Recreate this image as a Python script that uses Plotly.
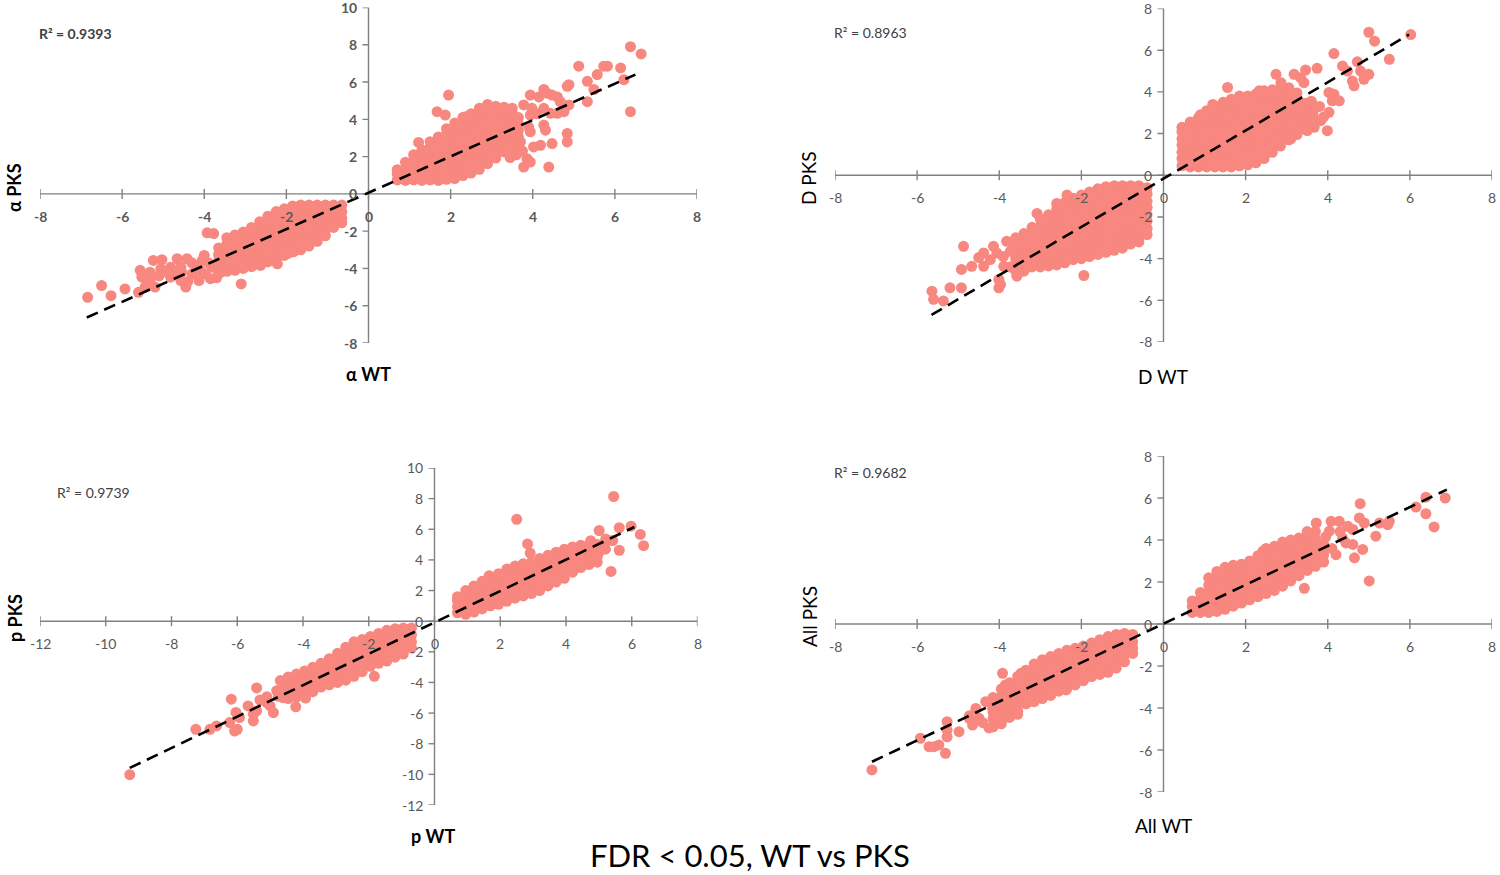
import plotly.graph_objects as go

# ---------------- values ----------------
# dense part of every cloud: (WT value, [PKS values at that WT value])
# scattered points: (WT value, PKS value)

alpha_core = [
    (0.7, [0.75, 1.1, 1.3]),
    (0.9, [0.72, 1.05, 1.4, 1.7]),
    (1.1, [0.75, 1.1, 1.45, 1.8, 2.1]),
    (1.3, [0.72, 0.95, 1.3, 1.65, 2.0, 2.35]),
    (1.5, [0.75, 1.1, 1.45, 1.8, 2.15, 2.5, 2.8]),
    (1.7, [0.72, 0.95, 1.3, 1.65, 2.0, 2.35, 2.7, 3.05]),
    (1.9, [0.78, 1.1, 1.45, 1.8, 2.15, 2.5, 2.85, 3.2, 3.5]),
    (2.1, [0.82, 1.0, 1.35, 1.7, 2.05, 2.4, 2.75, 3.1, 3.45, 3.8]),
    (2.3, [0.98, 1.3, 1.65, 2.0, 2.35, 2.7, 3.05, 3.4, 3.75, 4.1]),
    (2.5, [1.12, 1.45, 1.8, 2.15, 2.5, 2.85, 3.2, 3.55, 3.9, 4.3]),
    (2.7, [1.32, 1.65, 2.0, 2.35, 2.7, 3.05, 3.4, 3.75, 4.1, 4.45, 4.6]),
    (2.9, [1.62, 1.95, 2.3, 2.65, 3.0, 3.35, 3.7, 4.05, 4.4, 4.8]),
    (3.1, [1.92, 2.25, 2.6, 2.95, 3.3, 3.65, 4.0, 4.35, 4.7]),
    (3.3, [2.25, 2.6, 2.95, 3.3, 3.65, 4.0, 4.35, 4.65]),
    (3.5, [2.62, 2.95, 3.3, 3.65, 4.0, 4.35, 4.6]),
    (3.65, [3.05, 3.4, 3.75, 4.1]),
    (-0.65, [-0.6, -0.95, -1.3, -1.55]),
    (-0.85, [-0.6, -0.95, -1.3, -1.65, -1.8]),
    (-1.05, [-0.6, -0.9, -1.25, -1.6, -1.95, -2.25]),
    (-1.25, [-0.6, -0.95, -1.3, -1.65, -2.0, -2.35, -2.55]),
    (-1.45, [-0.6, -0.9, -1.25, -1.6, -1.95, -2.3, -2.65, -2.8]),
    (-1.65, [-0.6, -0.95, -1.3, -1.65, -2.0, -2.35, -2.7, -3.0]),
    (-1.85, [-0.65, -1.0, -1.35, -1.7, -2.05, -2.4, -2.75, -3.1]),
    (-2.05, [-0.8, -1.15, -1.5, -1.85, -2.2, -2.55, -2.9, -3.3]),
    (-2.25, [-0.95, -1.3, -1.65, -2.0, -2.35, -2.7, -3.05, -3.4, -3.6]),
    (-2.45, [-1.2, -1.55, -1.9, -2.25, -2.6, -2.95, -3.3, -3.65]),
    (-2.65, [-1.5, -1.85, -2.2, -2.55, -2.9, -3.25, -3.6, -3.8]),
    (-2.85, [-1.8, -2.15, -2.5, -2.85, -3.2, -3.55, -3.9]),
    (-3.05, [-2.05, -2.4, -2.75, -3.1, -3.45, -3.8, -4.0]),
    (-3.25, [-2.2, -2.55, -2.9, -3.25, -3.6, -3.95, -4.1]),
    (-3.45, [-2.35, -2.7, -3.05, -3.4, -3.75, -4.15]),
    (-3.65, [-2.9, -3.25, -3.6, -3.95, -4.3]),
]
alpha_extra = [
    (1.95, 5.3), (1.67, 4.41), (1.87, 4.23), (2.36, 4.14), (1.22, 2.76), (3.78, 4.77),
    (3.98, 4.59), (3.94, 5.3), (4.15, 5.2), (4.27, 5.6), (4.35, 5.4), (4.47, 5.3),
    (4.6, 5.2), (4.67, 4.95), (3.94, 4.23), (4.1, 4.3), (4.27, 4.59), (4.43, 4.32),
    (4.6, 4.32), (4.76, 4.41), (4.88, 4.77), (4.84, 5.77), (4.88, 5.86), (5.12, 6.85),
    (5.33, 6.04), (5.33, 4.95), (5.49, 5.6), (5.57, 6.4), (5.73, 6.85), (5.82, 6.85),
    (6.14, 6.76), (6.22, 6.13), (6.38, 4.41), (6.38, 7.9), (6.64, 7.51), (3.9, 3.6),
    (3.94, 3.33), (4.27, 3.69), (4.31, 3.42), (4.19, 2.61), (4.02, 2.52), (4.47, 2.7),
    (4.84, 3.24), (4.84, 2.79), (3.86, 1.89), (3.94, 1.71), (3.78, 1.44), (4.39, 1.44),
    (3.37, 2.25), (3.5, 2.61), (3.62, 2.34), (3.7, 2.79), (3.45, 1.95), (3.6, 2.1),
    (3.75, 2.3),
    (-3.93, -2.09), (-3.77, -2.13), (-3.1, -4.83), (-2.63, -3.84), (-2.22, -3.75),
    (-1.97, -3.2), (-1.82, -3.1), (-5.24, -3.57), (-5.03, -3.53), (-4.66, -3.48),
    (-4.42, -3.48), (-5.52, -4.47), (-5.56, -4.1), (-5.32, -4.2), (-5.93, -5.1),
    (-6.27, -5.46), (-6.5, -4.92), (-6.84, -5.55), (-5.6, -5.28), (-5.06, -4.02),
    (-4.82, -3.93), (-4.57, -3.93), (-4.82, -4.47), (-4.57, -4.65), (-4.45, -5.0),
    (-4.21, -3.93), (-4.05, -3.57), (-3.97, -4.29), (-3.8, -3.93), (-4.13, -4.65),
    (-5.32, -4.65), (-5.2, -5.0), (-5.44, -5.0), (-4.9, -4.2), (-4.7, -4.3),
    (-4.3, -4.3), (-4.1, -4.1), (-3.9, -3.7), (-4.0, -3.3), (-4.3, -3.7),
    (-4.55, -4.2), (-5.1, -4.4), (-3.85, -4.55), (-4.4, -4.7), (-3.7, -4.5),
    (-3.6, -4.2),
]
alpha_fit_wt = [-6.86, 6.5]
alpha_fit_pks = [-6.63, 6.4]
alpha_r2 = "0.9393"

d_core = [
    (0.45, [0.45, 0.8, 1.1, 1.45, 1.75, 2.1, 2.3]),
    (0.65, [0.4, 0.65, 1.0, 1.3, 1.65, 1.95, 2.3, 2.55]),
    (0.85, [0.4, 0.75, 1.1, 1.4, 1.75, 2.05, 2.4, 2.75]),
    (1.05, [0.4, 0.65, 1.0, 1.3, 1.65, 1.95, 2.3, 2.6, 2.95, 3.1]),
    (1.25, [0.4, 0.75, 1.1, 1.4, 1.75, 2.05, 2.4, 2.7, 3.05, 3.3]),
    (1.45, [0.4, 0.65, 1.0, 1.3, 1.65, 1.95, 2.3, 2.6, 2.95, 3.25, 3.5]),
    (1.65, [0.4, 0.75, 1.1, 1.4, 1.75, 2.05, 2.4, 2.7, 3.05, 3.35, 3.65]),
    (1.85, [0.45, 0.8, 1.1, 1.45, 1.75, 2.1, 2.4, 2.75, 3.05, 3.4, 3.8]),
    (2.05, [0.5, 0.85, 1.2, 1.5, 1.85, 2.15, 2.5, 2.8, 3.15, 3.45, 3.8]),
    (2.25, [0.6, 0.95, 1.3, 1.6, 1.95, 2.25, 2.6, 2.9, 3.25, 3.55, 3.9]),
    (2.45, [0.8, 1.15, 1.45, 1.8, 2.1, 2.45, 2.75, 3.1, 3.4, 3.75, 4.05]),
    (2.65, [1.1, 1.45, 1.75, 2.1, 2.4, 2.75, 3.05, 3.4, 3.7, 4.1]),
    (2.85, [1.4, 1.7, 2.05, 2.35, 2.7, 3.0, 3.35, 3.65, 4.0, 4.2]),
    (3.05, [1.7, 2.0, 2.35, 2.65, 3.0, 3.3, 3.65, 3.95, 4.2]),
    (3.25, [1.95, 2.3, 2.6, 2.95, 3.25, 3.6, 3.95]),
    (3.45, [2.2, 2.5, 2.85, 3.15, 3.45]),
    (3.65, [2.5, 2.8, 3.1, 3.3]),
    (-0.4, [-0.6, -0.9, -1.25, -1.55, -1.9, -2.2, -2.55, -2.85]),
    (-0.6, [-0.5, -0.8, -1.1, -1.45, -1.75, -2.1, -2.4, -2.75, -3.05, -3.2]),
    (-0.8, [-0.5, -0.85, -1.2, -1.5, -1.85, -2.15, -2.5, -2.8, -3.15, -3.3]),
    (-1.0, [-0.5, -0.8, -1.1, -1.45, -1.75, -2.1, -2.4, -2.75, -3.05, -3.4, -3.5]),
    (-1.2, [-0.5, -0.85, -1.2, -1.5, -1.85, -2.15, -2.5, -2.8, -3.15, -3.45, -3.6]),
    (-1.4, [-0.55, -0.9, -1.2, -1.55, -1.85, -2.2, -2.5, -2.85, -3.15, -3.5, -3.7]),
    (-1.6, [-0.65, -1.0, -1.3, -1.65, -1.95, -2.3, -2.6, -2.95, -3.25, -3.6, -3.8]),
    (-1.8, [-0.8, -1.1, -1.45, -1.75, -2.1, -2.4, -2.75, -3.05, -3.4, -3.7, -3.9]),
    (-2.0, [-0.95, -1.3, -1.6, -1.95, -2.25, -2.6, -2.9, -3.25, -3.55, -3.9, -4.0]),
    (-2.2, [-1.1, -1.4, -1.75, -2.05, -2.4, -2.7, -3.05, -3.35, -3.7, -4.05]),
    (-2.4, [-1.3, -1.65, -1.95, -2.3, -2.6, -2.95, -3.25, -3.6, -3.9, -4.2]),
    (-2.6, [-1.6, -1.9, -2.25, -2.55, -2.9, -3.2, -3.55, -3.85, -4.2, -4.3]),
    (-2.8, [-1.9, -2.2, -2.55, -2.85, -3.2, -3.5, -3.85, -4.15, -4.35]),
    (-3.0, [-2.1, -2.45, -2.75, -3.1, -3.4, -3.75, -4.05, -4.4]),
    (-3.2, [-2.5, -2.8, -3.15, -3.45, -3.8, -4.1, -4.4]),
    (-3.4, [-2.8, -3.1, -3.45, -3.75, -4.1, -4.4, -4.6]),
    (-3.6, [-3.0, -3.35, -3.65, -4.0, -4.3, -4.6]),
]
d_extra = [
    (1.56, 4.21), (2.33, 4.05), (2.74, 4.84), (2.86, 4.44), (3.18, 4.84), (3.34, 4.68),
    (3.46, 5.05), (3.74, 5.13), (3.42, 4.44), (4.15, 5.84), (4.36, 5.24), (4.48, 5.0),
    (4.72, 5.44), (4.8, 5.0), (4.6, 4.52), (4.64, 4.29), (4.88, 4.6), (5.0, 4.84),
    (4.15, 3.89), (4.11, 3.57), (4.28, 3.57), (4.03, 3.02), (3.99, 2.14), (3.83, 2.62),
    (3.67, 2.3), (3.06, 1.9), (3.1, 1.75), (3.5, 2.14), (5.0, 6.86), (5.14, 6.43),
    (5.5, 5.56), (6.02, 6.75), (4.03, 3.97), (3.6, 3.55), (3.8, 3.3), (3.9, 2.8),
    (1.2, 3.4), (0.9, 2.9),
    (-4.87, -3.41), (-4.38, -3.73), (-4.38, -4.37), (-4.67, -4.37), (-4.92, -4.52),
    (-4.92, -5.4), (-5.2, -5.4), (-5.64, -5.56), (-5.6, -5.95), (-5.36, -6.03),
    (-4.01, -5.0), (-4.01, -5.4), (-3.97, -5.24), (-3.57, -4.84), (-1.94, -4.81),
    (-4.22, -4.05), (-4.06, -3.73), (-3.73, -3.65), (-3.89, -4.37), (-3.33, -3.97),
    (-3.08, -1.83), (-2.84, -2.14), (-2.6, -1.35), (-2.35, -0.95), (-4.14, -3.41),
    (-3.82, -3.17), (-3.9, -3.9), (-4.5, -3.95), (-3.75, -4.4),
]
d_fit_wt = [-5.65, 5.98]
d_fit_pks = [-6.7, 6.75]
d_r2 = "0.8963"

p_core = [
    (0.7, [0.55, 0.95, 1.35, 1.6]),
    (0.95, [0.45, 0.9, 1.35, 1.75, 2.0]),
    (1.2, [0.6, 1.05, 1.5, 1.9, 2.3]),
    (1.45, [0.8, 1.25, 1.7, 2.15, 2.6]),
    (1.7, [1.0, 1.45, 1.9, 2.35, 2.8, 2.9]),
    (1.95, [1.1, 1.55, 2.0, 2.45, 2.9, 3.1]),
    (2.2, [1.3, 1.75, 2.2, 2.65, 3.1, 3.4]),
    (2.45, [1.5, 1.95, 2.4, 2.85, 3.3, 3.6]),
    (2.7, [1.65, 2.1, 2.55, 3.0, 3.45, 3.75]),
    (2.95, [1.8, 2.25, 2.7, 3.15, 3.6, 3.85]),
    (3.2, [2.0, 2.45, 2.9, 3.35, 3.8, 4.1]),
    (3.45, [2.3, 2.75, 3.2, 3.65, 4.1, 4.3]),
    (3.7, [2.55, 3.0, 3.45, 3.9, 4.35, 4.5]),
    (3.95, [2.8, 3.25, 3.7, 4.15, 4.6, 4.7]),
    (4.2, [3.2, 3.65, 4.1, 4.5, 4.85]),
    (4.45, [3.5, 3.95, 4.4, 4.85, 4.95]),
    (4.7, [3.7, 4.15, 4.6, 5.0]),
    (4.95, [3.85, 4.3, 4.75, 5.0]),
    (-0.7, [-0.45, -0.9, -1.35, -1.75]),
    (-0.95, [-0.45, -0.85, -1.3, -1.75, -2.15]),
    (-1.2, [-0.5, -0.95, -1.4, -1.85, -2.35]),
    (-1.45, [-0.6, -1.05, -1.5, -1.95, -2.4, -2.6]),
    (-1.7, [-0.8, -1.25, -1.7, -2.15, -2.6, -2.75]),
    (-1.95, [-1.0, -1.45, -1.9, -2.35, -2.8, -2.95]),
    (-2.2, [-1.2, -1.65, -2.1, -2.55, -3.0, -3.3]),
    (-2.45, [-1.35, -1.8, -2.25, -2.7, -3.15, -3.6]),
    (-2.7, [-1.7, -2.15, -2.6, -3.05, -3.5, -3.85]),
    (-2.95, [-2.1, -2.55, -3.0, -3.45, -3.9, -4.0]),
    (-3.2, [-2.45, -2.9, -3.35, -3.8, -4.15]),
    (-3.45, [-2.75, -3.2, -3.65, -4.1, -4.3]),
    (-3.7, [-3.0, -3.45, -3.9, -4.35, -4.6]),
    (-3.95, [-3.25, -3.7, -4.15, -4.6, -4.85]),
    (-4.2, [-3.45, -3.9, -4.35, -4.8, -4.95]),
    (-4.45, [-3.65, -4.1, -4.55, -5.05]),
]
p_extra = [
    (2.5, 6.65), (2.83, 5.04), (2.91, 4.45), (1.66, 2.96), (5.01, 5.92), (5.21, 5.37),
    (5.45, 8.14), (5.62, 6.1), (5.62, 4.63), (5.37, 3.25), (5.42, 5.26), (5.98, 6.2),
    (6.26, 5.66), (6.36, 4.93), (5.16, 5.04), (5.0, 4.5), (4.95, 4.2), (4.75, 5.25),
    (5.2, 4.7),
    (-1.83, -3.6), (-4.22, -5.59), (-3.92, -5.02), (-5.41, -4.36), (-5.31, -5.15),
    (-5.1, -4.94), (-5.67, -5.53), (-5.51, -6.07), (-5.41, -5.86), (-5.51, -6.51),
    (-6.18, -5.09), (-6.04, -5.96), (-5.93, -6.29), (-6.23, -6.62), (-6.08, -7.17),
    (-6.0, -7.06), (-5.0, -5.53), (-4.9, -5.97), (-5.1, -5.31), (-6.63, -6.84),
    (-6.83, -7.06), (-7.26, -7.06), (-9.27, -10.02), (-4.59, -4.32), (-4.8, -4.54),
    (-4.69, -3.88), (-4.75, -4.9), (-4.6, -5.0),
]
p_fit_wt = [-9.27, 6.08]
p_fit_pks = [-9.58, 6.15]
p_r2 = "0.9739"

all_core = [
    (0.7, [0.55, 0.85, 1.1]),
    (0.9, [0.55, 0.9, 1.2, 1.5]),
    (1.1, [0.55, 0.85, 1.2, 1.5, 1.85, 2.2]),
    (1.3, [0.6, 0.95, 1.25, 1.6, 1.9, 2.25, 2.5]),
    (1.5, [0.7, 1.0, 1.35, 1.65, 2.0, 2.3, 2.65, 2.7]),
    (1.7, [0.85, 1.2, 1.5, 1.85, 2.15, 2.5, 2.8]),
    (1.9, [1.0, 1.3, 1.65, 1.95, 2.3, 2.6, 2.85]),
    (2.1, [1.15, 1.5, 1.8, 2.15, 2.45, 2.8, 3.0]),
    (2.3, [1.3, 1.6, 1.95, 2.25, 2.6, 2.9, 3.25]),
    (2.5, [1.45, 1.8, 2.1, 2.45, 2.75, 3.1, 3.4, 3.6]),
    (2.7, [1.6, 1.95, 2.25, 2.6, 2.9, 3.25, 3.55, 3.7]),
    (2.9, [1.8, 2.1, 2.45, 2.75, 3.1, 3.4, 3.75, 3.9]),
    (3.1, [2.05, 2.35, 2.7, 3.0, 3.35, 3.65, 4.0]),
    (3.3, [2.3, 2.6, 2.95, 3.25, 3.6, 3.9, 4.1]),
    (3.5, [2.55, 2.9, 3.2, 3.55, 3.85, 4.2, 4.4]),
    (3.7, [2.75, 3.1, 3.4, 3.75, 4.05, 4.4]),
    (3.9, [2.95, 3.3, 3.6, 3.8]),
    (-0.75, [-0.5, -0.85, -1.15, -1.4]),
    (-0.95, [-0.45, -0.8, -1.1, -1.45, -1.8]),
    (-1.15, [-0.5, -0.85, -1.15, -1.5, -1.8, -2.1]),
    (-1.35, [-0.6, -0.9, -1.25, -1.55, -1.9, -2.2, -2.3]),
    (-1.55, [-0.75, -1.1, -1.4, -1.75, -2.05, -2.4]),
    (-1.75, [-0.9, -1.2, -1.55, -1.85, -2.2, -2.5]),
    (-1.95, [-1.05, -1.4, -1.7, -2.05, -2.35, -2.7]),
    (-2.15, [-1.15, -1.5, -1.8, -2.15, -2.45, -2.8, -2.9]),
    (-2.35, [-1.25, -1.6, -1.9, -2.25, -2.55, -2.9, -3.05]),
    (-2.55, [-1.4, -1.75, -2.05, -2.4, -2.7, -3.05, -3.2]),
    (-2.75, [-1.55, -1.9, -2.2, -2.55, -2.85, -3.2, -3.4]),
    (-2.95, [-1.7, -2.05, -2.35, -2.7, -3.0, -3.35, -3.55]),
    (-3.15, [-1.9, -2.25, -2.55, -2.9, -3.2, -3.5, -3.7]),
    (-3.35, [-2.2, -2.5, -2.85, -3.15, -3.5, -3.8]),
    (-3.55, [-2.5, -2.85, -3.15, -3.5, -3.8, -4.15, -4.3]),
    (-3.75, [-2.8, -3.15, -3.45, -3.8, -4.1, -4.45]),
    (-3.95, [-3.1, -3.45, -3.75, -4.1, -4.4, -4.6]),
    (-4.15, [-3.5, -3.85, -4.2, -4.5, -4.9]),
]
all_extra = [
    (2.42, 3.47), (3.43, 1.7), (3.72, 4.81), (4.08, 4.89), (4.28, 4.89), (4.04, 4.42),
    (4.49, 4.65), (4.61, 4.5), (4.77, 5.05), (4.79, 5.73), (4.89, 4.81), (5.17, 4.18),
    (5.26, 4.81), (5.46, 4.73), (5.5, 4.89), (4.61, 3.79), (4.85, 3.55), (4.65, 3.15),
    (5.01, 2.05), (4.36, 4.1), (4.44, 3.86), (3.88, 3.79), (6.15, 5.57), (6.39, 6.04),
    (6.39, 5.25), (6.59, 4.62), (6.86, 6.0), (4.1, 3.6), (4.2, 3.3), (3.95, 4.15),
    (4.3, 4.4),
    (-2.73, -3.22), (-2.37, -3.14), (-3.27, -3.7), (-3.47, -2.35), (-3.92, -2.35),
    (-4.33, -3.7), (-4.57, -4.02), (-4.73, -4.49), (-4.73, -4.37), (-4.98, -5.13),
    (-5.27, -4.65), (-5.27, -5.05), (-5.27, -5.37), (-5.92, -5.44), (-5.71, -5.84),
    (-5.47, -5.76), (-5.59, -5.84), (-5.31, -6.16), (-7.1, -6.95), (-4.65, -4.81),
    (-4.49, -4.49), (-4.08, -4.33), (-4.16, -4.02), (-4.4, -4.7), (-4.25, -4.95),
    (-3.95, -4.75), (-3.85, -2.9), (-4.0, -3.7),
]
all_fit_wt = [-7.1, 6.9]
all_fit_pks = [-6.56, 6.4]
all_r2 = "0.9682"

ticks_8 = [-8, -6, -4, -2, 0, 2, 4, 6, 8]
ticks_alpha_y = [-8, -6, -4, -2, 0, 2, 4, 6, 8, 10]
ticks_p_x = [-12, -10, -8, -6, -4, -2, 0, 2, 4, 6, 8]
ticks_p_y = [-12, -10, -8, -6, -4, -2, 0, 2, 4, 6, 8, 10]

names = ["α", "D", "p", "All"]
title_text = "FDR &lt; 0.05, WT vs PKS"

# ---------------- layout (pixels in the 1500 x 875 page) ----------------
W, H = 1500, 875
DOT = "#F7877F"
AXIS = "#808080"
TICKTXT = "#595959"
FONT = "Lato"


def fx(px):
    return px / W


def fy(py):
    return 1 - py / H


panels = [
    dict(core=alpha_core, extra=alpha_extra, fit=(alpha_fit_wt, alpha_fit_pks), r2=alpha_r2,
         xt=ticks_8, yt=ticks_alpha_y, box=(40, 697, 7.5, 343), bold_ticks=True, bold_titles=True,
         ytitle=(14, 188), xtitle=(368, 374), r2pos=(37, 34)),
    dict(core=d_core, extra=d_extra, fit=(d_fit_wt, d_fit_pks), r2=d_r2,
         xt=ticks_8, yt=ticks_8, box=(835, 1492, 8.5, 342), bold_ticks=False, bold_titles=False,
         ytitle=(809, 178), xtitle=(1163, 376), r2pos=(832, 33)),
    dict(core=p_core, extra=p_extra, fit=(p_fit_wt, p_fit_pks), r2=p_r2,
         xt=ticks_p_x, yt=ticks_p_y, box=(40, 697.5, 468, 805), bold_ticks=False, bold_titles=True,
         ytitle=(15, 618), xtitle=(433, 836), r2pos=(55, 492)),
    dict(core=all_core, extra=all_extra, fit=(all_fit_wt, all_fit_pks), r2=all_r2,
         xt=ticks_8, yt=ticks_8, box=(835, 1492, 456, 792), bold_ticks=False, bold_titles=False,
         ytitle=(809, 617), xtitle=(1163, 825), r2pos=(832, 472)),
]

fig = go.Figure()
shapes = []
annotations = []
layout_axes = {}

for i, (pn, name) in enumerate(zip(panels, names), start=1):
    sfx = "" if i == 1 else str(i)
    xa, ya = "x" + sfx, "y" + sfx
    left, right, top, bottom = pn["box"]
    xt, yt = pn["xt"], pn["yt"]

    layout_axes["xaxis" + sfx] = dict(domain=[fx(left), fx(right)], range=[xt[0], xt[-1]],
                                      anchor=ya, visible=False, fixedrange=True)
    layout_axes["yaxis" + sfx] = dict(domain=[fy(bottom), fy(top)], range=[yt[0], yt[-1]],
                                      anchor=xa, visible=False, fixedrange=True)

    xs, ys = [], []
    for x, col in pn["core"]:
        for y in col:
            xs.append(x)
            ys.append(y)
    for x, y in pn["extra"]:
        xs.append(x)
        ys.append(y)

    fig.add_trace(go.Scatter(x=xs, y=ys, xaxis=xa, yaxis=ya, mode="markers",
                             marker=dict(size=11, color=DOT, line=dict(width=0)),
                             showlegend=False, hoverinfo="skip"))
    fig.add_trace(go.Scatter(x=pn["fit"][0], y=pn["fit"][1], xaxis=xa, yaxis=ya, mode="lines",
                             line=dict(color="black", width=2.6, dash="12px,7px"),
                             showlegend=False, hoverinfo="skip"))

    # axes crossing at the origin
    shapes.append(dict(type="line", xref=xa, yref=ya, x0=xt[0], x1=xt[-1], y0=0, y1=0,
                       line=dict(color=AXIS, width=1.4), layer="below"))
    shapes.append(dict(type="line", xref=xa, yref=ya, x0=0, x1=0, y0=yt[0], y1=yt[-1],
                       line=dict(color=AXIS, width=1.4), layer="below"))

    tfont = dict(family=FONT, size=14, color=TICKTXT,
                 weight="bold" if pn["bold_ticks"] else "normal")
    for t in xt:
        shapes.append(dict(type="line", xref=xa, yref=ya, x0=t, x1=t, yanchor=0,
                           ysizemode="pixel", y0=-5, y1=5,
                           line=dict(color=AXIS, width=1.4), layer="below"))
        annotations.append(dict(xref=xa, yref=ya, x=t, y=0, text=str(t), showarrow=False,
                                yanchor="top", yshift=-12, font=tfont))
    for t in yt:
        shapes.append(dict(type="line", xref=xa, yref=ya, y0=t, y1=t, xanchor=0,
                           xsizemode="pixel", x0=-6, x1=0,
                           line=dict(color=AXIS, width=1.4), layer="below"))
        annotations.append(dict(xref=xa, yref=ya, x=0, y=t, text=str(t), showarrow=False,
                                xanchor="right", xshift=-10, yanchor="middle", font=tfont))

    ttl_font = dict(family=FONT, size=18 if pn["bold_titles"] else 19, color="black",
                    weight="bold" if pn["bold_titles"] else "normal")
    annotations.append(dict(xref="paper", yref="paper", x=fx(pn["ytitle"][0]), y=fy(pn["ytitle"][1]),
                            text=name + " PKS", textangle=-90, showarrow=False,
                            xanchor="center", yanchor="middle", font=ttl_font))
    annotations.append(dict(xref="paper", yref="paper", x=fx(pn["xtitle"][0]), y=fy(pn["xtitle"][1]),
                            text=name + " WT", showarrow=False,
                            xanchor="center", yanchor="middle", font=ttl_font))
    annotations.append(dict(xref="paper", yref="paper", x=fx(pn["r2pos"][0]), y=fy(pn["r2pos"][1]),
                            text="R² = " + pn["r2"], showarrow=False,
                            xanchor="left", yanchor="middle",
                            font=dict(family=FONT, size=14, color="#404040",
                                      weight="bold" if i == 1 else "normal")))

annotations.append(dict(xref="paper", yref="paper", x=fx(750), y=fy(855), text=title_text,
                        showarrow=False, xanchor="center", yanchor="middle",
                        font=dict(family=FONT, size=31, color="black")))

fig.update_layout(
    width=W, height=H,
    margin=dict(l=0, r=0, t=0, b=0),
    paper_bgcolor="white", plot_bgcolor="white",
    shapes=shapes, annotations=annotations,
    showlegend=False,
    **layout_axes,
)

# the page's default body margin would shift the figure; remove it
fig.write_html("out.html", config={"displayModeBar": False},
               post_script="document.body.style.margin='0';")
